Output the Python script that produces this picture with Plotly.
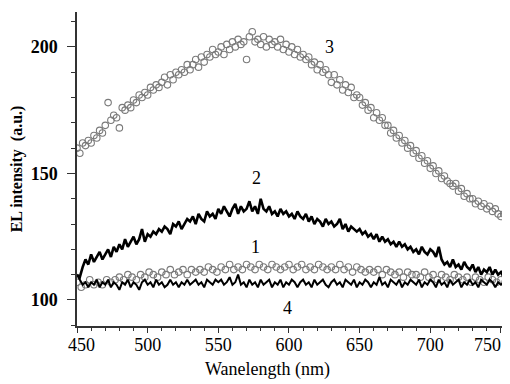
import plotly.graph_objects as go

# wavelength grids (nm)
wl = list(range(450, 755, 2))      # curves 2, 3, 4
wl1 = list(range(450, 755, 3))     # curve 1

curve3 = [
    160, 158, 162, 161, 163, 162, 165, 164, 167, 166,
    169, 178, 171, 173, 172, 168, 176, 175, 177, 176,
    179, 178, 181, 180, 182, 181, 184, 183, 185, 184,
    186, 188, 185, 189, 187, 190, 189, 191, 190, 193,
    191, 193, 195, 192, 196, 194, 197, 196, 199, 197,
    198, 200, 197, 201, 199, 202, 200, 203, 201, 202,
    195, 204, 206, 202, 203, 201, 204, 200, 203, 201,
    202, 200, 203, 199, 201, 198, 200, 197, 199, 196,
    197, 195, 196, 193, 194, 191, 193, 190, 191, 189,
    186, 189, 185, 187, 183, 185, 182, 184, 180, 181,
    180, 177, 178, 175, 176, 172, 174, 171, 172, 169,
    169, 166, 167, 164, 165, 162, 163, 160, 161, 158,
    159, 156, 157, 154, 155, 152, 153, 150, 151, 148,
    149, 147, 146, 145, 146, 143, 144, 141, 142, 140,
    140, 138, 139, 137, 138, 136, 137, 135, 136, 134,
    133, 134, 133,
]

curve2 = [
    110, 109, 113, 116, 114, 118, 115, 117, 119, 116,
    118, 120, 117, 121, 119, 122, 120, 124, 121, 123,
    125, 122, 124, 128, 123, 126, 125, 127, 126, 128,
    127, 129, 128, 126, 130, 129, 131, 128, 130, 132,
    131, 133, 130, 134, 132, 131, 135, 133, 134, 132,
    136, 134, 137, 135, 133, 136, 138, 134, 137, 135,
    136, 139, 135, 137, 134, 140, 136, 135, 137, 134,
    135, 133, 136, 134, 135, 133, 134, 132, 135, 133,
    132, 134, 131, 133, 130, 132, 131, 129, 132, 130,
    131, 129, 130, 132, 128, 130, 127, 129, 128, 127,
    128, 126, 127, 125, 126, 124, 126, 123, 125, 123,
    124, 122, 123, 121, 123, 121, 122, 120, 121, 119,
    120, 118, 121, 119, 118, 120, 119, 117, 121, 116,
    114, 115, 113, 116, 113, 114, 112, 115, 113, 112,
    114, 111, 113, 110, 112, 111, 113, 110, 112, 110,
    111, 109, 110,
]

curve4 = [
    110, 108, 106, 107, 105, 107, 106, 108, 105, 107,
    106, 108, 105, 107, 106, 104, 107, 106, 108, 105,
    107, 106, 104, 107, 108, 106, 107, 105, 108, 106,
    107, 105, 106, 108, 106, 107, 105, 107, 106, 108,
    106, 107, 108, 106, 107, 105, 108, 107, 106, 108,
    107, 108, 106, 107, 109, 106, 107, 110, 106, 107,
    105, 108, 106, 107, 105, 108, 106, 107, 108, 105,
    107, 106, 108, 105, 107, 106, 108, 107, 105, 107,
    108, 106, 107, 105, 108, 106, 107, 108, 106, 105,
    107, 108, 106, 107, 105, 108, 107, 106, 108, 105,
    107, 106, 108, 107, 105, 107, 106, 109, 106, 107,
    105, 108, 107, 106, 108, 105, 107, 106, 108, 107,
    106, 108, 105, 107, 106, 108, 107, 105, 108, 106,
    107, 105, 108, 106, 107, 108, 105, 107, 106, 108,
    106, 107, 105, 108, 107, 106, 108, 107, 105, 107,
    106, 107, 106,
]

curve1 = [
    107, 105, 106, 108, 106, 107, 106, 108, 107, 108,
    109, 108, 110, 109, 108, 110, 109, 111, 110, 109,
    111, 110, 112, 110, 111, 112, 110, 112, 111, 112,
    111, 113, 112, 111, 113, 112, 114, 112, 113, 112,
    114, 113, 112, 114, 113, 112, 114, 113, 112, 113,
    114, 112, 113, 114, 112, 113, 112, 114, 113, 112,
    113, 112, 114, 112, 113, 111, 113, 112, 111, 112,
    111, 112, 110, 112, 111, 110, 111, 109, 111, 110,
    110, 109, 111, 109, 110, 108, 110, 109, 108, 110,
    109, 108, 109, 107, 109, 108, 107, 109, 108, 107,
    108, 107,
]

curve_labels = ["3", "2", "1", "4"]
label_x = [629, 577, 576, 599]
label_y = [200, 148, 121, 97]

NB = "\u00a0"
x_tickvals = [450, 500, 550, 600, 650, 700, 750]
# the last label sits at the figure edge, so it is drawn as an annotation shifted left
x_ticktext = [NB * 2 + "450", "500", "550", "600", "650", "700", ""]
edge_tick_label = "750"
y_tickvals = [100, 150, 200]

FONT = "Liberation Serif, Times New Roman, serif"
GRAY = "#7a7a7a"

# the page body adds an 8px offset; the figure is sized so it fits the window
W, H = 502, 376
L, R, T, B = 69, 2, 4, 58
PW, PH = W - L - R, H - T - B

fig = go.Figure()
fig.add_trace(go.Scatter(x=wl, y=curve3, mode="markers",
                         marker=dict(symbol="circle-open", size=6.5, color=GRAY,
                                     line=dict(width=1.1, color=GRAY)),
                         showlegend=False))
fig.add_trace(go.Scatter(x=wl1, y=curve1, mode="markers",
                         marker=dict(symbol="circle-open", size=6.5, color=GRAY,
                                     line=dict(width=1.1, color=GRAY)),
                         showlegend=False))
fig.add_trace(go.Scatter(x=wl, y=curve2, mode="lines",
                         line=dict(color="black", width=2.6),
                         showlegend=False))
fig.add_trace(go.Scatter(x=wl, y=curve4, mode="lines",
                         line=dict(color="black", width=2.0),
                         showlegend=False))

for t, lx, ly in zip(curve_labels, label_x, label_y):
    fig.add_annotation(x=lx, y=ly, text=t, showarrow=False,
                       font=dict(family=FONT, size=18, color="black"))

fig.add_annotation(x=x_tickvals[-1], xref="x", y=-(337 - (H - B)) / PH, yref="paper",
                   text=edge_tick_label, showarrow=False, xanchor="center", yanchor="middle",
                   xshift=-13, font=dict(family=FONT, size=18, color="black"))

fig.add_annotation(x=(259 - L) / PW, y=-(361 - (H - B)) / PH, xref="paper", yref="paper",
                   text="Wanelength (nm)", showarrow=False,
                   xanchor="center", yanchor="middle",
                   font=dict(family=FONT, size=18, color="black"))

fig.update_layout(
    width=W, height=H,
    margin=dict(l=L, r=R, t=T, b=B),
    paper_bgcolor="white", plot_bgcolor="white",
    font=dict(family=FONT, color="black"),
    xaxis=dict(range=[450, 755], tickvals=x_tickvals, ticktext=x_ticktext,
               automargin=False,
               ticks="outside", ticklen=5, tickwidth=1.2, tickcolor="#333",
               minor=dict(dtick=10, ticks="outside", ticklen=3, tickcolor="#333"),
               showline=True, linecolor="#333", linewidth=1.5,
               showgrid=False, zeroline=False,
               ticklabeloverflow="allow", ticklabelstandoff=-3,
               tickfont=dict(family=FONT, size=18, color="black")),
    yaxis=dict(range=[89.7, 213.8], tickvals=y_tickvals,
               ticks="outside", ticklen=8, tickwidth=1.2, tickcolor="#333",
               minor=dict(dtick=10, ticks="outside", ticklen=4, tickcolor="#333"),
               showline=True, linecolor="#333", linewidth=1.5,
               showgrid=False, zeroline=False,
               ticklabelstandoff=6,
               tickfont=dict(family=FONT, size=18, color="black", weight="bold"),
               title=dict(text="EL intensity  (a.u.)", standoff=6,
                          font=dict(family=FONT, size=16, color="black", weight="bold"))),
)

fig.write_html("out.html")
